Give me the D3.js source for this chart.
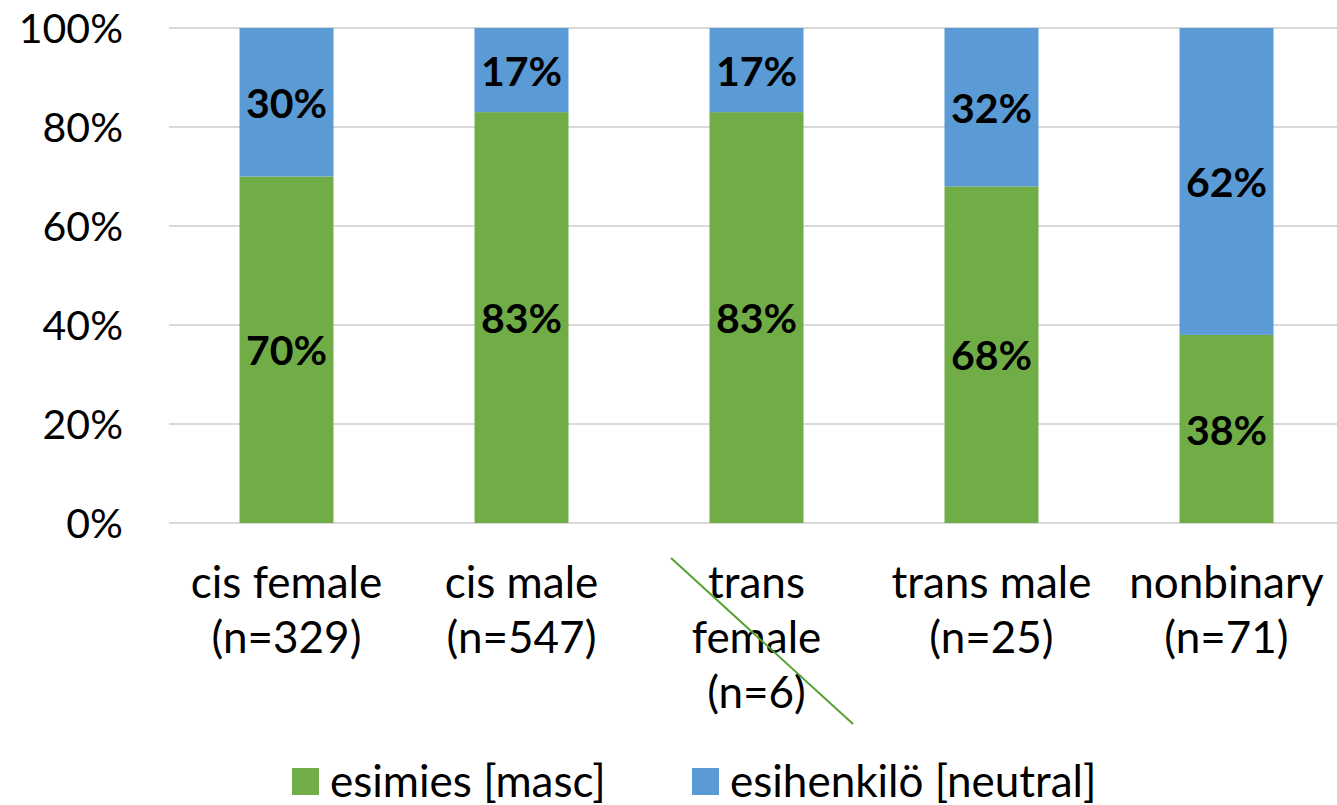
<!DOCTYPE html>
<html>
<head>
<meta charset="utf-8">
<script src="https://cdn.jsdelivr.net/npm/d3@7"></script>
<style>
  html, body { margin: 0; padding: 0; background: #fff; }
  svg { display: block; }
  text { font-family: Lato, "Open Sans", sans-serif; fill: #000; }
</style>
</head>
<body>
<svg id="chart" width="1337" height="805"></svg>
<script>
// Share of respondents choosing each word, by gender group
const categories = ["cis female", "cis male", "trans female", "trans male", "nonbinary"];
const sampleSizes = ["(n=329)", "(n=547)", "(n=6)", "(n=25)", "(n=71)"];
const masc = [70, 83, 83, 68, 38];      // esimies [masc]
const neutral = [30, 17, 17, 32, 62];   // esihenkilö [neutral]
const seriesNames = ["esimies [masc]", "esihenkilö [neutral]"];
const yTicks = [0, 20, 40, 60, 80, 100];

const colors = ["#70AD47", "#5B9BD5"];
const W = 1337, H = 805;
const svg = d3.select("#chart");

const x = d3.scaleBand().domain(categories).range([169, 1344]).paddingInner(0.6).paddingOuter(0.3);
const y = d3.scaleLinear().domain([0, 100]).range([523, 28]);

// gridlines
svg.append("g").selectAll("line").data(yTicks).join("line")
  .attr("x1", 169).attr("x2", W)
  .attr("y1", d => y(d)).attr("y2", d => y(d))
  .attr("stroke", "#D9D9D9").attr("stroke-width", 2);

// y tick labels
svg.append("g").selectAll("text").data(yTicks).join("text")
  .attr("x", 123).attr("y", d => y(d))
  .attr("dy", "0.36em")
  .attr("text-anchor", "end")
  .attr("font-size", 41)
  .text(d => d + "%");

// stacked bars
const rows = categories.map((c, i) => ({ cat: c, vals: [masc[i], neutral[i]] }));
const stacked = d3.stack().keys([0, 1]).value((d, k) => d.vals[k])(rows);

stacked.forEach((layer, k) => {
  const g = svg.append("g");
  g.selectAll("rect").data(layer).join("rect")
    .attr("x", d => x(d.data.cat))
    .attr("width", x.bandwidth())
    .attr("y", d => y(d[1]))
    .attr("height", d => y(d[0]) - y(d[1]))
    .attr("fill", colors[k]);
  g.selectAll("text").data(layer).join("text")
    .attr("x", d => x(d.data.cat) + x.bandwidth() / 2)
    .attr("y", d => (y(d[0]) + y(d[1])) / 2)
    .attr("dy", "0.38em")
    .attr("text-anchor", "middle")
    .attr("font-size", 41)
    .attr("font-weight", "bold")
    .text(d => d.data.vals[k] + "%");
});

// category labels (wrapped)
const catLines = categories.map((c, i) =>
  c === "trans female" ? ["trans", "female", sampleSizes[i]] : [c, sampleSizes[i]]);
const lineH = 55;
const firstBaseline = y(0) + 75;
const catG = svg.append("g");
categories.forEach((c, i) => {
  const t = catG.append("text")
    .attr("x", x(c) + x.bandwidth() / 2)
    .attr("y", firstBaseline)
    .attr("text-anchor", "middle")
    .attr("font-size", 44);
  catLines[i].forEach((ln, j) => {
    t.append("tspan").attr("x", x(c) + x.bandwidth() / 2)
      .attr("y", firstBaseline + j * lineH).text(ln);
  });
});

// strike-through line across the trans female label
const tfCenter = x("trans female") + x.bandwidth() / 2;
svg.append("line")
  .attr("x1", tfCenter - 85.5).attr("y1", y(0) + 35)
  .attr("x2", tfCenter + 96.5).attr("y2", y(0) + 201)
  .attr("stroke", "#55A032").attr("stroke-width", 2);

// legend
const legendItems = [{ x: 292, name: seriesNames[0], color: colors[0] },
                     { x: 692, name: seriesNames[1], color: colors[1] }];
const lg = svg.append("g");
legendItems.forEach(it => {
  lg.append("rect").attr("x", it.x).attr("y", 768).attr("width", 27).attr("height", 27).attr("fill", it.color);
  lg.append("text").attr("x", it.x + 38).attr("y", 797).attr("font-size", 44).text(it.name);
});
</script>
</body>
</html>
